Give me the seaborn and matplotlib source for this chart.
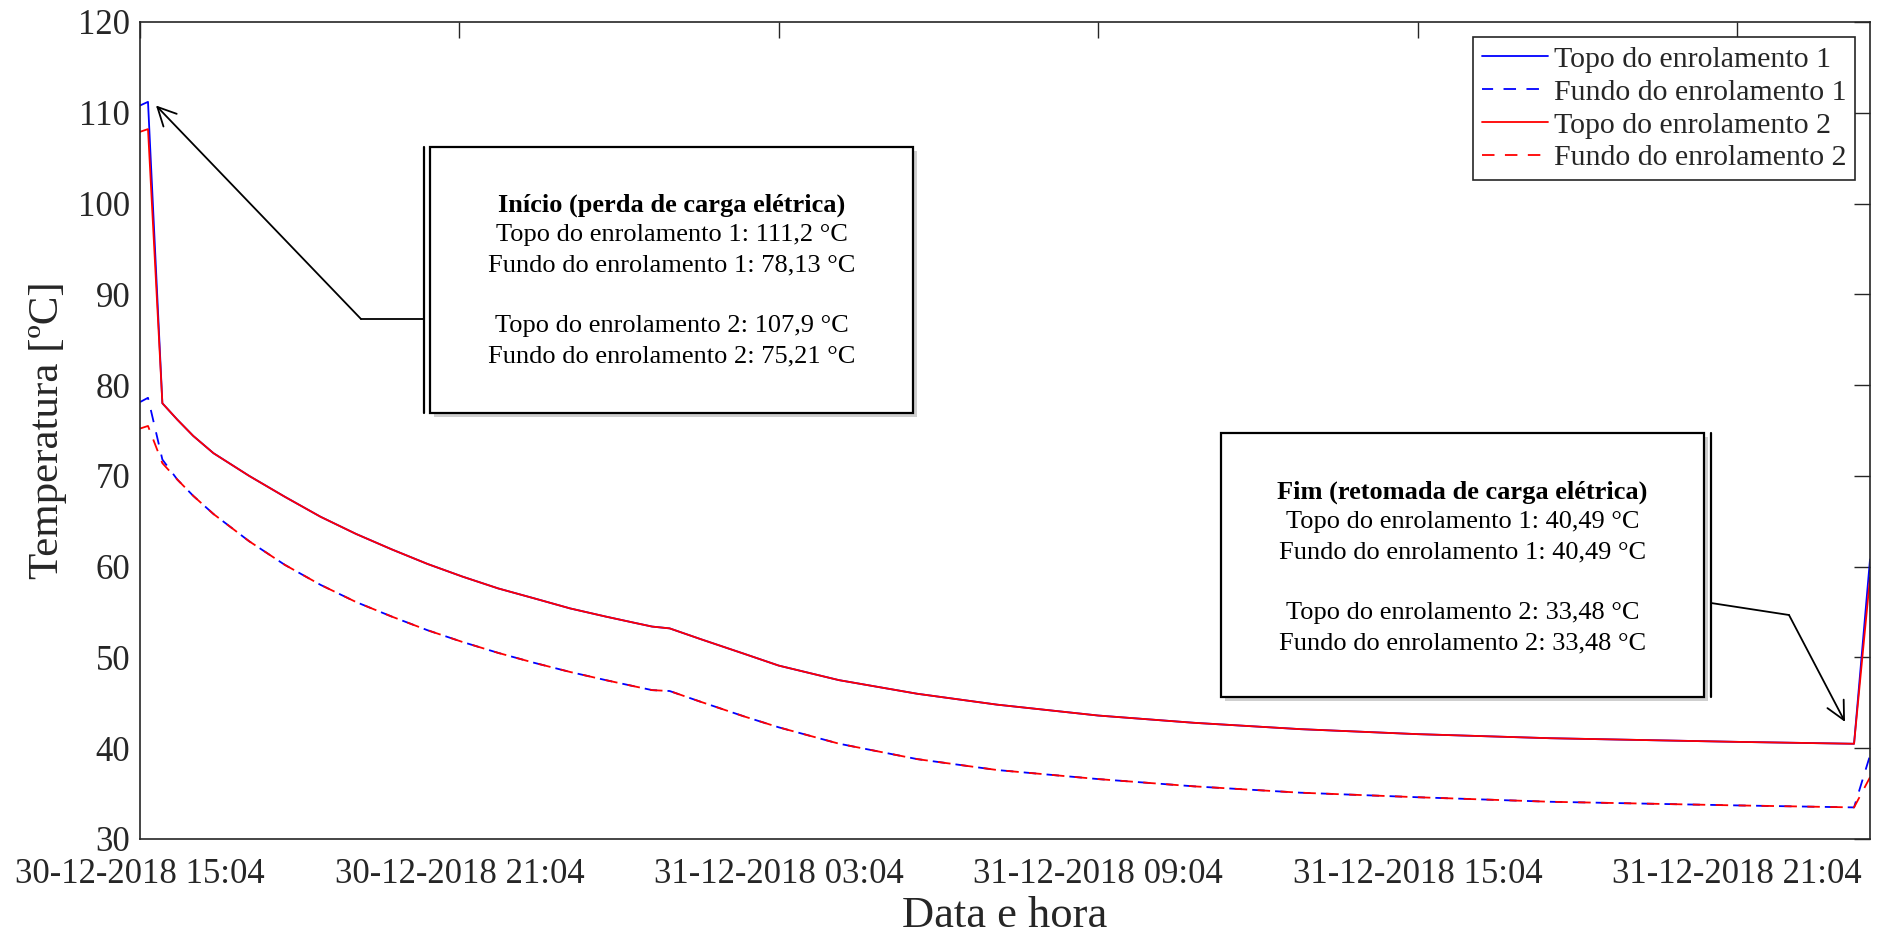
import pandas as pd
import seaborn as sns
import matplotlib.pyplot as plt
import matplotlib.dates as mdates
from matplotlib.patches import Rectangle
from matplotlib.lines import Line2D

# Dados (horas desde 30-12-2018 15:04)
inicio = pd.Timestamp('2018-12-30 15:04')
horas = [0.0, 0.15, 0.42, 0.7, 1.0, 1.38, 2.05, 2.72, 3.39, 4.06,
         4.73, 5.40, 6.06, 6.73, 7.41, 8.08, 8.75, 9.30, 9.62, 9.95,
         10.54, 11.35, 12.0, 13.13, 14.6, 16.1, 18.0, 19.8, 21.8, 24.0,
         26.5, 30.0, 32.2, 32.5]
topo1 = [110.8, 111.2, 78.0, 76.2, 74.4, 72.5, 70.0, 67.7, 65.5, 63.6,
         61.9, 60.3, 58.9, 57.6, 56.5, 55.4, 54.5, 53.8, 53.4, 53.2,
         52.0, 50.4, 49.1, 47.5, 46.0, 44.8, 43.6, 42.8, 42.1, 41.55,
         41.1, 40.7, 40.49, 60.8]
topo2 = [107.9, 108.2, 78.0, 76.2, 74.4, 72.5, 70.0, 67.7, 65.5, 63.6,
         61.9, 60.3, 58.9, 57.6, 56.5, 55.4, 54.5, 53.8, 53.4, 53.2,
         52.0, 50.4, 49.1, 47.5, 46.0, 44.8, 43.6, 42.8, 42.1, 41.55,
         41.1, 40.7, 40.49, 58.8]
fundo1 = [78.13, 78.6, 71.8, 69.6, 67.8, 65.8, 62.8, 60.2, 58.0, 56.1,
          54.5, 53.0, 51.7, 50.5, 49.4, 48.4, 47.5, 46.8, 46.4, 46.3,
          45.1, 43.5, 42.3, 40.5, 38.8, 37.6, 36.6, 35.8, 35.1, 34.6,
          34.1, 33.7, 33.48, 39.2]
fundo2 = [75.21, 75.5, 71.4, 69.6, 67.8, 65.8, 62.8, 60.2, 58.0, 56.1,
          54.5, 53.0, 51.7, 50.5, 49.4, 48.4, 47.5, 46.8, 46.4, 46.3,
          45.1, 43.5, 42.3, 40.5, 38.8, 37.6, 36.6, 35.8, 35.1, 34.6,
          34.1, 33.7, 33.48, 36.8]
marcas_x = ['2018-12-30 15:04', '2018-12-30 21:04', '2018-12-31 03:04',
            '2018-12-31 09:04', '2018-12-31 15:04', '2018-12-31 21:04']
marcas_y = [30, 40, 50, 60, 70, 80, 90, 100, 110, 120]

titulo1 = 'Início (perda de carga elétrica)'
linhas1 = ['Topo do enrolamento 1: 111,2 °C', 'Fundo do enrolamento 1: 78,13 °C', '',
           'Topo do enrolamento 2: 107,9 °C', 'Fundo do enrolamento 2: 75,21 °C']
titulo2 = 'Fim (retomada de carga elétrica)'
linhas2 = ['Topo do enrolamento 1: 40,49 °C', 'Fundo do enrolamento 1: 40,49 °C', '',
           'Topo do enrolamento 2: 33,48 °C', 'Fundo do enrolamento 2: 33,48 °C']

sns.set_theme(style='white')
plt.rcParams['font.family'] = ['Liberation Serif', 'DejaVu Serif']
plt.rcParams['lines.scale_dashes'] = False
cinza = '#262626'

fig, ax = plt.subplots(figsize=(18.87, 9.39), dpi=100)
fig.subplots_adjust(left=0.0742, right=0.991, top=0.9766, bottom=0.1065)
W, H = 1887, 939

tempo = inicio + pd.to_timedelta(horas, unit='h')

# tracejado azul levemente deslocado para aparecer entre os traços vermelhos
sns.lineplot(x=tempo, y=topo1, color='blue', lw=1.3, label='Topo do enrolamento 1', ax=ax)
sns.lineplot(x=tempo, y=fundo1, color='blue', lw=1.3, linestyle=(1.0, (9, 7.5)),
             label='Fundo do enrolamento 1', ax=ax)
sns.lineplot(x=tempo, y=topo2, color='red', lw=1.3, label='Topo do enrolamento 2', ax=ax)
sns.lineplot(x=tempo, y=fundo2, color='red', lw=1.3, linestyle=(0, (9, 7.5)),
             label='Fundo do enrolamento 2', ax=ax)

ax.set_xlim(mdates.date2num(tempo[0]), mdates.date2num(tempo[-1]))
ax.set_ylim(30, 120)
ax.set_xticks(mdates.date2num(pd.to_datetime(marcas_x).to_pydatetime()))
ax.xaxis.set_major_formatter(mdates.DateFormatter('%d-%m-%Y %H:%M'))
ax.set_yticks(marcas_y)

for s in ax.spines.values():
    s.set_color(cinza)
    s.set_linewidth(1.2)
ax.tick_params(direction='in', length=11.5, width=1.0, top=True, right=True,
               color=cinza, labelsize=25, labelcolor=cinza, pad=7)
ax.tick_params(axis='x', pad=14)
ax.set_xlabel('Data e hora', fontsize=32, color=cinza, labelpad=3)
ax.set_ylabel('Temperatura [ºC]', fontsize=31, color=cinza, labelpad=8)

leg = ax.legend(loc='upper right', fontsize=21.5, frameon=True, fancybox=False,
                edgecolor=cinza, framealpha=1, handlelength=2.2, handletextpad=0.2,
                labelspacing=0.2, borderpad=0.3, borderaxespad=0.5)
leg.get_frame().set_linewidth(1.2)


def fx(x):
    return x / W


def fy(y):
    return 1 - y / H


def caixa(x0, y0, x1, y1, xdupla, titulo, linhas, ytit):
    # sombra
    fig.add_artist(Rectangle((fx(x0 + 4), fy(y1 + 4)), fx(x1 - x0), (y1 - y0) / H,
                             transform=fig.transFigure, facecolor='#b0b0b0',
                             edgecolor='none', alpha=0.6, zorder=4))
    fig.add_artist(Rectangle((fx(x0), fy(y1)), fx(x1 - x0), (y1 - y0) / H,
                             transform=fig.transFigure, facecolor='white',
                             edgecolor='black', lw=1.6, zorder=5))
    fig.add_artist(Line2D([fx(xdupla), fx(xdupla)], [fy(y0), fy(y1)],
                          transform=fig.transFigure, color='black', lw=1.6, zorder=5))
    xc = fx((x0 + x1) / 2)
    fig.text(xc, fy(ytit), titulo, ha='center', va='center', fontsize=19,
             fontweight='bold', color='black', zorder=6)
    for i, l in enumerate(linhas):
        fig.text(xc, fy(ytit + 30.3 * (i + 1)), l, ha='center', va='center',
                 fontsize=19, color='black', zorder=6)


caixa(430, 147, 913, 413, 424, titulo1, linhas1, 205)
caixa(1221, 433, 1704, 697, 1711, titulo2, linhas2, 492)

# setas
seta = dict(arrowstyle='->,head_length=0.6,head_width=0.3', lw=1.3, color='black',
            shrinkA=0, shrinkB=0, mutation_scale=22)
fig.add_artist(Line2D([fx(424), fx(361)], [fy(319), fy(319)], transform=fig.transFigure,
                      color='black', lw=1.3, zorder=5))
ax.annotate('', xy=(mdates.date2num(inicio + pd.Timedelta(hours=0.3)), 110.8),
            xytext=(361, H - 319), textcoords='figure pixels', arrowprops=seta)
fig.add_artist(Line2D([fx(1711), fx(1789)], [fy(603), fy(615)], transform=fig.transFigure,
                      color='black', lw=1.3, zorder=5))
ax.annotate('', xy=(mdates.date2num(inicio + pd.Timedelta(hours=32.03)), 42.9),
            xytext=(1789, H - 615), textcoords='figure pixels', arrowprops=seta)

plt.savefig('out.png', dpi=100)
